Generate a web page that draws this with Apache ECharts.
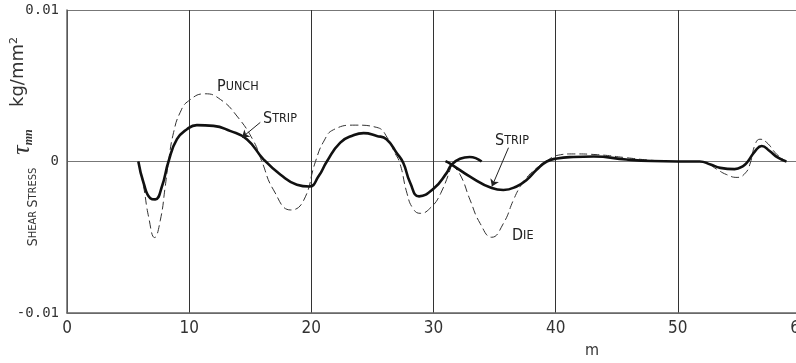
<!DOCTYPE html>
<html><head><meta charset="utf-8">
<script src="https://cdn.jsdelivr.net/npm/echarts@6/dist/echarts.min.js"></script>
<style>html,body{margin:0;padding:0;background:#fff}#c{width:796px;height:363px}</style>
</head><body><div id="c"></div>
<script>
// ---- data ----
const xTicks = [0, 10, 20, 30, 40, 50, 60];
const yTickLabels = { '-0.01': '-0.01', '0': '0', '0.01': '0.01' };

const stripAX = [5.84, 6.27, 6.82, 7.22, 7.77, 8.31, 9.0, 9.82, 10.63, 11.99, 13.34, 14.72, 16.1, 17.48, 18.82, 19.84, 20.59, 21.27, 22.37, 23.45, 24.28, 25.36, 26.15, 27.0, 27.53, 28.09, 28.82, 30.0, 31.08, 31.48, 32.17, 32.96, 33.94];
const stripAY = [0, -0.00142, -0.00242, -0.0025, -0.00165, 0, 0.00147, 0.00213, 0.0024, 0.00235, 0.00202, 0.00147, 0.00013, -0.00087, -0.00153, -0.00165, -0.00098, 0, 0.00125, 0.00173, 0.00187, 0.00169, 0.00147, 0.00055, -0.0001, -0.0014, -0.0023, -0.0018, -0.00075, -0.0002, 0.00018, 0.0003, 0];

const punchX = [5.84, 6.27, 6.68, 7.17, 7.64, 8.04, 8.31, 8.72, 9.27, 9.95, 11.31, 12.55, 13.91, 15.27, 15.95, 16.9, 18.32, 19.35, 20.34, 21.03, 21.82, 23.59, 25.36, 26.32, 26.75, 27.24, 27.83, 28.32, 28.91, 29.7, 30.59, 31.48];
const punchY = [0, -0.00165, -0.00365, -0.00502, -0.00387, -0.00165, 0, 0.0019, 0.00325, 0.004, 0.00447, 0.0041, 0.003, 0.00135, 0, -0.00187, -0.0032, -0.0026, 0, 0.00135, 0.0021, 0.0024, 0.00225, 0.00145, 0.0007, -0.0001, -0.0021, -0.0031, -0.00342, -0.0031, -0.0021, -0.0002];

const stripBX = [30.98, 31.48, 32.99, 34.77, 35.72, 36.8, 37.64, 38.46, 39.27, 40.1, 41.44, 43.11, 45.78, 47.85, 50.02, 51.79, 52.68, 53.47, 54.65, 55.34, 55.73, 56.33, 56.87, 57.51, 58.2, 58.89];
const stripBY = [0.00002, -0.0002, -0.001, -0.00175, -0.00188, -0.00165, -0.0012, -0.00053, 0, 0.0002, 0.0003, 0.00033, 0.00013, 0.00003, 0, 0, -0.0002, -0.00042, -0.0005, -0.0003, 0, 0.00069, 0.00102, 0.00069, 0.00025, 0];

const dieX = [31.48, 32.18, 32.99, 33.82, 34.77, 35.72, 36.55, 37.1, 37.64, 38.46, 39.27, 40.1, 41.44, 43.41, 45.78, 47.85, 50.02, 51.79, 52.38, 53.17, 54.01, 54.85, 55.54, 55.93, 56.33, 56.72, 57.28, 58.1, 58.89];
const dieY = [-0.0002, -0.00087, -0.00253, -0.00409, -0.005, -0.00409, -0.00253, -0.00165, -0.00105, -0.00042, 0.00003, 0.0004, 0.0005, 0.00045, 0.00025, 0.00008, 0, 0, -0.0001, -0.0005, -0.00087, -0.00105, -0.00075, -0.0001, 0.00113, 0.00147, 0.00125, 0.00047, 0];

// leader lines (data coordinates): [fromX, fromY, toX, toY]
const leaderStrip1 = [15.82, 0.00258, 14.32, 0.00158];
const leaderStrip2 = [36.14, 0.00091, 34.78, -0.00165];

// ---- chart ----
const pair = (xs, ys) => xs.map((x, i) => [x, ys[i]]);
const NARROW = "'Liberation Sans Narrow','DejaVu Sans Condensed',sans-serif";
const chart = echarts.init(document.getElementById('c'), null, { renderer: 'canvas' });

const leader = (l) => ({
  silent: true, symbol: ['none', 'arrow'], symbolSize: 7,
  label: { show: false },
  lineStyle: { color: '#222', width: 1, type: 'solid' },
  emphasis: { disabled: true },
  data: [[{ coord: [l[0], l[1]] }, { coord: [l[2], l[3]] }]]
});

const solid = { color: '#111', width: 2.6, type: 'solid' };
const dashed = { color: '#333', width: 1, type: [8, 4] };
const SMOOTH = 0.5;

const option = {
  animation: false,
  backgroundColor: '#fff',
  grid: { left: 67, top: 10, width: 733, height: 303, containLabel: false, outerBoundsMode: 'none' },
  xAxis: {
    type: 'value', min: 0, max: 60, interval: 10,
    axisLine: { show: true, onZero: false, lineStyle: { color: '#666', width: 1.5 } },
    axisTick: { show: false },
    splitLine: { show: true, lineStyle: { color: '#333', width: 1 } },
    axisLabel: { color: '#333', fontFamily: NARROW, fontSize: 17, margin: 7,
      formatter: v => xTicks.includes(v) ? String(v) : '' }
  },
  yAxis: {
    type: 'value', min: -0.01, max: 0.01, interval: 0.01,
    axisLine: { show: true, onZero: false, lineStyle: { color: '#666', width: 1.5 } },
    axisTick: { show: false },
    splitLine: { show: true, lineStyle: { color: '#777', width: 1.2 } },
    axisLabel: { color: '#333', fontFamily: "'DejaVu Sans Mono',monospace", fontSize: 14, margin: 8,
      formatter: v => yTickLabels[String(Math.round(v * 100) / 100)] ?? '' }
  },
  series: [
    { name: 'Punch', type: 'line', data: pair(punchX, punchY), showSymbol: false, smooth: SMOOTH, lineStyle: dashed, z: 2 },
    { name: 'Die', type: 'line', data: pair(dieX, dieY), showSymbol: false, smooth: SMOOTH, lineStyle: dashed, z: 2 },
    { name: 'Strip', type: 'line', data: pair(stripAX, stripAY), showSymbol: false, smooth: SMOOTH, lineStyle: solid, z: 3, markLine: leader(leaderStrip1) },
    { name: 'Strip 2', type: 'line', data: pair(stripBX, stripBY), showSymbol: false, smooth: SMOOTH, lineStyle: solid, z: 3, markLine: leader(leaderStrip2) }
  ],
  graphic: [
    { type: 'text', x: 217, y: 95, silent: true, style: { text: '{a|P}{b|UNCH}', verticalAlign: 'bottom', rich: {
      a: { fontSize: 16, fontFamily: NARROW, fill: '#222' }, b: { fontSize: 12.5, fontFamily: NARROW, fill: '#222' } } } },
    { type: 'text', x: 263, y: 127, silent: true, style: { text: '{a|S}{b|TRIP}', verticalAlign: 'bottom', rich: {
      a: { fontSize: 16, fontFamily: NARROW, fill: '#222' }, b: { fontSize: 12.5, fontFamily: NARROW, fill: '#222' } } } },
    { type: 'text', x: 495, y: 149, silent: true, style: { text: '{a|S}{b|TRIP}', verticalAlign: 'bottom', rich: {
      a: { fontSize: 16, fontFamily: NARROW, fill: '#222' }, b: { fontSize: 12.5, fontFamily: NARROW, fill: '#222' } } } },
    { type: 'text', x: 512, y: 244, silent: true, style: { text: '{a|D}{b|IE}', verticalAlign: 'bottom', rich: {
      a: { fontSize: 16, fontFamily: NARROW, fill: '#222' }, b: { fontSize: 12.5, fontFamily: NARROW, fill: '#222' } } } },
    { type: 'text', x: 585, y: 343, silent: true, style: { text: 'm', fontSize: 16, fontFamily: NARROW, fill: '#333' } },
    // y-axis title pieces (rotated)
    { type: 'text', x: 33, y: 207, rotation: Math.PI / 2, silent: true, style: { text: '{a|S}{b|HEAR} {a|S}{b|TRESS}', align: 'center', verticalAlign: 'middle', rich: {
      a: { fontSize: 14, fontFamily: NARROW, fill: '#333' }, b: { fontSize: 11, fontFamily: NARROW, fill: '#333' } } } },
    { type: 'text', x: 22, y: 142, rotation: Math.PI / 2, silent: true, style: { text: '{t|τ}{s|mn}', align: 'center', verticalAlign: 'middle', rich: {
      t: { fontSize: 26, fontFamily: "'Liberation Serif',serif", fontStyle: 'italic', fill: '#333' },
      s: { fontSize: 12, fontFamily: "'Liberation Serif',serif", fontStyle: 'italic', fontWeight: 'bold', fill: '#333', verticalAlign: 'bottom' } } } },
    { type: 'text', x: 18, y: 72, rotation: Math.PI / 2, silent: true, style: { text: '{u|kg/mm}{p|2}', align: 'center', verticalAlign: 'middle', rich: {
      u: { fontSize: 18, fontFamily: "'DejaVu Sans',sans-serif", fill: '#333' },
      p: { fontSize: 11, fontFamily: "'DejaVu Sans',sans-serif", fill: '#333', verticalAlign: 'top' } } } }
  ]
};
chart.setOption(option);
</script>
</body></html>
